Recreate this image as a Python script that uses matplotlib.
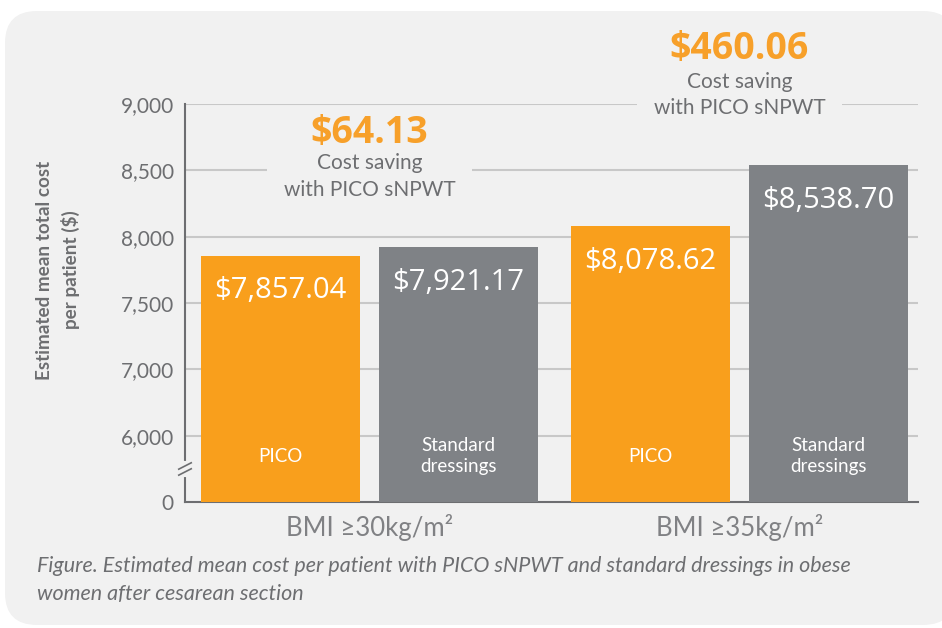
import numpy as np
import matplotlib
matplotlib.use("Agg")
import matplotlib.pyplot as plt
from matplotlib.patches import FancyBboxPatch
from matplotlib.transforms import blended_transform_factory

# Data
groups = ["BMI \u226530kg/m\u00b2", "BMI \u226535kg/m\u00b2"]
series = ["PICO", "Standard\ndressings"]
pico_cost = [7857.04, 8078.62]
std_cost = [7921.17, 8538.70]
savings = ["$64.13", "$460.06"]
yticks = [0, 6000, 7000, 7500, 8000, 8500, 9000]
ytick_labels = ["0", "6,000", "7,000", "7,500", "8,000", "8,500", "9,000"]

ORANGE = "#f99f1c"
GREY_BAR = "#7f8286"
PANEL = "#f1f1f1"
TXT = "#6d6e71"
GRID = "#c8c8c8"

# broken axis: each labelled tick gets the same spacing
steps = np.arange(len(yticks))
def fwd(v):
    return np.interp(v, yticks, steps)
def inv(v):
    return np.interp(v, steps, yticks)

fig = plt.figure(figsize=(9.42, 6.28), dpi=100, facecolor="white")

# rounded grey panel
panel = FancyBboxPatch((0.05, 0.03), 9.5, 6.14, boxstyle="round,pad=0,rounding_size=0.32",
                       transform=fig.dpi_scale_trans, facecolor=PANEL, edgecolor="none", zorder=-5)
fig.patches.append(panel)

ax = fig.add_axes([185 / 942, 1 - 502 / 628, 733 / 942, 398 / 628])
ax.set_zorder(2)
ax.set_facecolor("none")
ax.set_yscale("function", functions=(fwd, inv))
ax.set_ylim(0, 9000)
ax.set_xlim(-0.4986, 1.4824)

x = np.arange(len(groups))
off = 0.2405
w = 0.4297
b1 = ax.bar(x - off, pico_cost, width=w, color=ORANGE, zorder=3)
b2 = ax.bar(x + off, std_cost, width=w, color=GREY_BAR, zorder=3)

# gridlines
for t in yticks[1:]:
    ax.axhline(t, color=GRID, lw=1.5, zorder=1)

ax.set_yticks(yticks)
ax.set_yticklabels(ytick_labels, family="Lato", fontsize=15, color=TXT)
ax.tick_params(axis="y", length=0, pad=8)
ax.set_xticks([])
for s in ["top", "right"]:
    ax.spines[s].set_visible(False)
for s in ["left", "bottom"]:
    ax.spines[s].set_color("#6d6e71")
    ax.spines[s].set_linewidth(1.5)

# break marks on the y axis
ax.plot([0.0, 0.0], [0.069, 0.097], transform=ax.transAxes, color=PANEL, lw=3,
        clip_on=False, zorder=5)
for yc in [0.0905, 0.0755]:
    ax.plot([-0.0085, 0.0085], [yc - 0.008, yc + 0.008], transform=ax.transAxes,
            color="#6d6e71", lw=1.2, clip_on=False, zorder=6)

# labels inside bars
trans = blended_transform_factory(ax.transData, ax.transAxes)
for bars in (b1, b2):
    for r in bars:
        v = r.get_height()
        cx = r.get_x() + r.get_width() / 2
        ax.annotate(f"${v:,.2f}", (cx, v), xytext=(0, -35), textcoords="offset pixels",
                    ha="center", va="center", color="white", fontsize=21,
                    family="Open Sans", zorder=4)
for i in range(len(groups)):
    ax.text(x[i] - off, 0.115, series[0], transform=trans, ha="center", va="center",
            color="white", fontsize=13.5, family="Lato", zorder=4)
    ax.text(x[i] + off, 0.115, series[1], transform=trans, ha="center", va="center",
            color="white", fontsize=13.5, family="Lato", linespacing=1.25, zorder=4)
    ax.text(x[i], -0.063, groups[i], transform=trans, ha="center", va="center",
            color="#808184", fontsize=18.5, family=["Lato", "DejaVu Sans"])

# cost saving callouts
sav_y = [0.927, 1.138]
note_y = [0.818, 1.0226]
for i in range(len(groups)):
    ax.text(x[i], sav_y[i], savings[i], transform=trans, ha="center", va="center",
            color="#f7a02a", fontsize=27, fontweight="bold", family="Open Sans",
            clip_on=False, zorder=4)
    ax.text(x[i], note_y[i], "Cost saving\nwith PICO sNPWT", transform=trans,
            ha="center", va="center", color=TXT, fontsize=15, family="Lato",
            linespacing=1.42, clip_on=False, zorder=2,
            bbox=dict(boxstyle="square,pad=0.8", facecolor=PANEL, edgecolor="none"))

fig.text(58 / 942, 1 - 270 / 628, "Estimated mean total cost\nper patient ($)",
         rotation=90, ha="center", va="center", color=TXT, fontsize=13.6,
         fontweight="bold", family="Lato", linespacing=1.45)

fig.text(37 / 942, 1 - 566 / 628,
         "Figure. Estimated mean cost per patient with PICO sNPWT and standard dressings in obese",
         ha="left", va="center", color=TXT, fontsize=15.5, style="italic", family="Lato")
fig.text(37 / 942, 1 - 594 / 628, "women after cesarean section",
         ha="left", va="center", color=TXT, fontsize=15.5, style="italic", family="Lato")

fig.savefig("out.png", dpi=100, facecolor="white")
